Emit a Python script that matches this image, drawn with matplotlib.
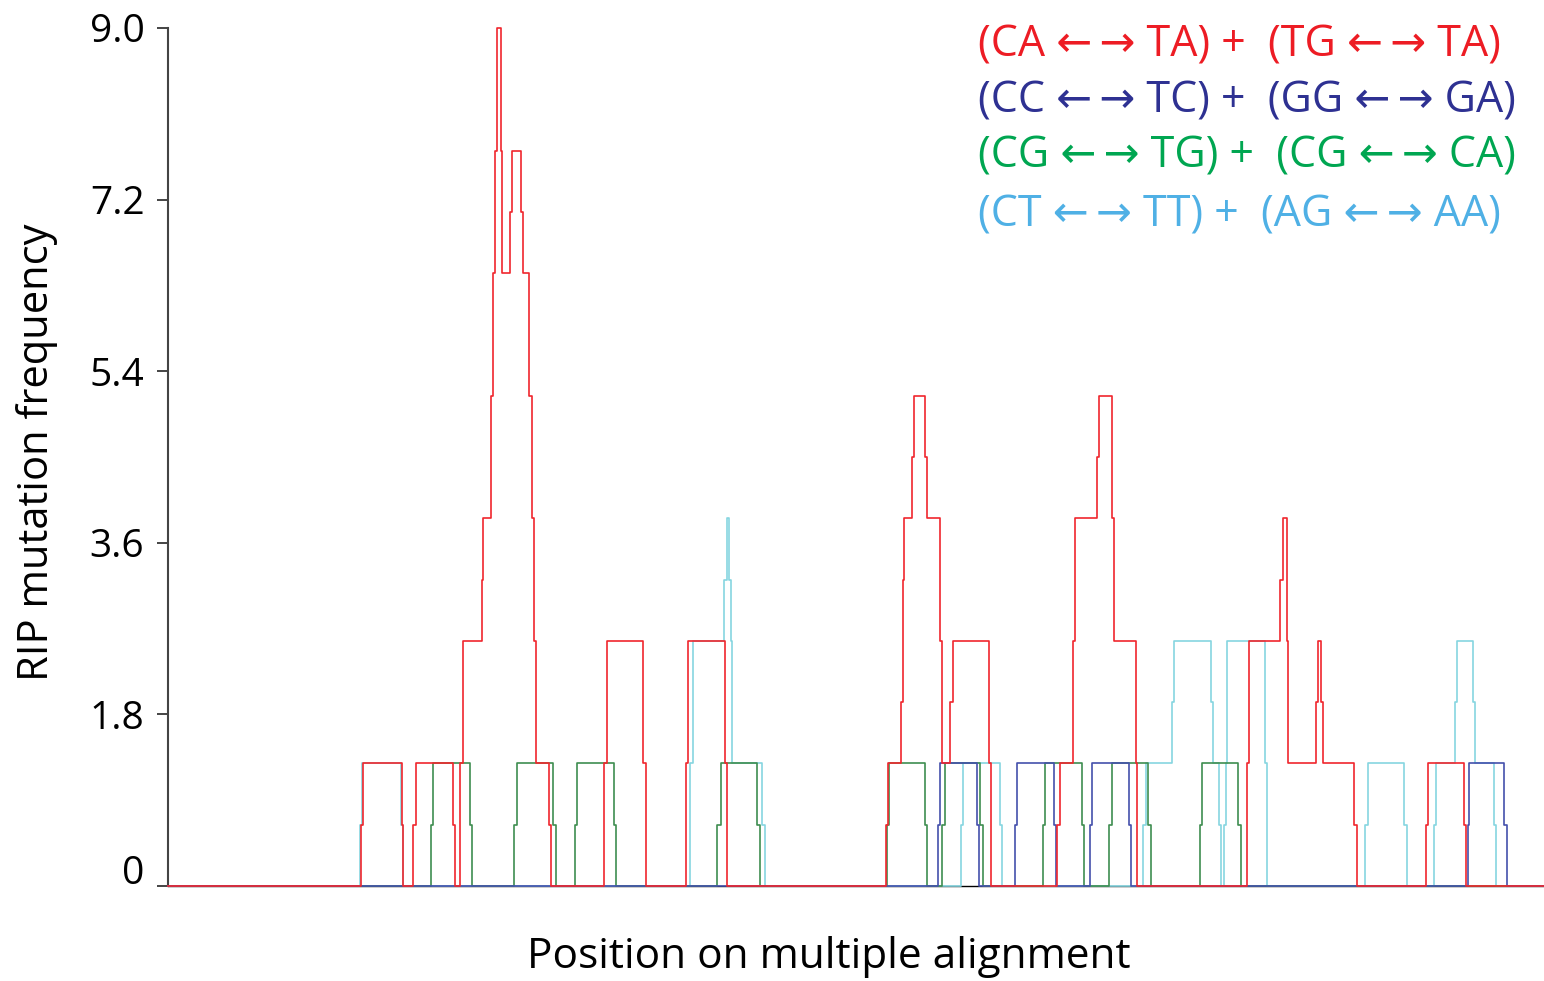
import matplotlib
matplotlib.use('Agg')
import matplotlib.pyplot as plt
from matplotlib.transforms import ScaledTranslation

plt.rcParams['font.family'] = ['Open Sans', 'DejaVu Sans']

# one level step = 9/14 of a frequency unit
UNIT = 9.0 / 14.0
X_END = 1376

# (CA<->TA)+(TG<->TA)
red_x = [0, 192.7, 195.3, 233.7, 235.3, 244.7, 248, 284.7, 287, 292, 295.3,
         314.3, 315.3, 323, 324.7, 326.5, 328.7, 332.5, 333.7, 342, 344, 353,
         355.3, 361.3, 364, 365.7, 367.7, 381.3, 383, 436.3, 438.7, 475.3,
         477.7, 518, 520.3, 557, 559.3, 718, 720.3, 733, 734.7, 736, 744.3,
         746.3, 757, 759.3, 772, 774.3, 782, 784.7, 821.3, 823, 889.3, 892,
         905.3, 907, 929.3, 931, 943.7, 946, 967.7, 969.3, 1078.7, 1081,
         1111.5, 1115, 1118.5, 1120.3, 1147.7, 1149.7, 1153, 1154.7, 1186.3,
         1188.7, 1258, 1259.7, 1296, 1298]
red_lv = [0, 1, 2, 1, 0, 1, 2, 1, 0, 2, 4,
          5, 6, 8, 10, 12, 14, 12, 10, 11, 12, 11,
          10, 8, 6, 4, 2, 1, 0, 2, 4, 2,
          0, 2, 4, 2, 0, 1, 2, 3, 5, 6, 7,
          8, 7, 6, 4, 2, 3, 4, 2, 0, 1, 2,
          4, 6, 7, 8, 6, 4, 2, 0, 2, 4,
          5, 6, 4, 2, 3, 4, 3, 2, 1,
          0, 1, 2, 1, 0]

# (CC<->TC)+(GG<->GA)
blue_x = [0, 769.7, 772, 808.7, 811, 847, 849.3, 886, 887.7, 922, 924.3,
          961, 962.7, 1299.7, 1300.7, 1336.3, 1338.7]
blue_lv = [0, 1, 2, 1, 0, 1, 2, 1, 0, 1, 2,
           1, 0, 1, 2, 1, 0]

# (CG<->TG)+(CG<->CA)
green_x = [0, 262.7, 265, 302, 304.3, 346.3, 348.7, 385.3, 387.7, 407, 409,
           446, 448, 549.3, 552.7, 589.3, 591.5, 718.5, 720.5, 757, 759.3,
           774, 777, 812, 815, 874.7, 877, 913.7, 916, 941.3, 943.7, 980.3,
           982.7, 1032, 1034.3, 1070.3, 1072.7]
green_lv = [0, 1, 2, 1, 0, 1, 2, 1, 0, 1, 2,
            1, 0, 1, 2, 1, 0, 1, 2, 1, 0,
            1, 2, 1, 0, 1, 2, 1, 0, 1, 2, 1,
            0, 1, 2, 1, 0]

# (CT<->TT)+(AG<->AA)
cyan_x = [0, 191.7, 194.3, 233, 234.7, 522, 524.7, 556.3, 558.7, 561.3,
          562.7, 564, 593.7, 597.3, 793, 795.3, 832, 834.3, 975.3, 977.7,
          1003.7, 1006, 1043, 1044.7, 1051.3, 1053, 1056, 1057.5, 1059.3,
          1097, 1098.7, 1197, 1199.7, 1236, 1238.7, 1266.3, 1268, 1287,
          1289.3, 1305.3, 1307, 1326, 1328]
cyan_lv = [0, 1, 2, 1, 0, 2, 4, 5, 6, 5,
           4, 2, 1, 0, 1, 2, 1, 0, 1, 2,
           3, 4, 3, 2, 1, 0, 1, 2, 4,
           2, 0, 1, 2, 1, 0, 1, 2, 3,
           4, 3, 2, 1, 0]

yticks = [0, 1.8, 3.6, 5.4, 7.2, 9.0]
ytick_labels = ['0', '1.8', '3.6', '5.4', '7.2', '9.0']

AR = '\u2190\u2009\u2192'
legend_rows = [
    ('(CA ' + AR + ' TA) +  (TG ' + AR + ' TA)', '#ed1c24'),
    ('(CC ' + AR + ' TC) +  (GG ' + AR + ' GA)', '#2e3192'),
    ('(CG ' + AR + ' TG) +  (CG ' + AR + ' CA)', '#00a651'),
    ('(CT ' + AR + ' TT) +  (AG ' + AR + ' AA)', '#4fb0e5'),
]

series = [
    (cyan_x, cyan_lv, '#86d5e0'),
    (green_x, green_lv, '#3e8d50'),
    (blue_x, blue_lv, '#4450ac'),
    (red_x, red_lv, '#f0262d'),
]

fig = plt.figure(figsize=(15.44, 9.81), dpi=100)
ax = fig.add_axes([168 / 1544, 1 - 886 / 981, 1 - 168 / 1544, (886 - 28) / 981])

for i, (xs, lv, col) in enumerate(series):
    xx = list(xs) + [X_END]
    yy = [v * UNIT for v in lv] + [0]
    ax.plot(xx, yy, drawstyle='steps-post', color=col, lw=1.2,
            zorder=3 + i, clip_on=False)

ax.set_xlim(0, X_END)
ax.set_ylim(0, 9.0)
ax.set_xticks([])
ax.set_yticks(yticks)
ax.set_yticklabels(ytick_labels)
ax.tick_params(axis='y', length=8, width=1.4, color='#444444', pad=9,
               labelsize=28)
# the zero label sits just above its tick
lab0 = ax.get_yticklabels()[0]
lab0.set_verticalalignment('bottom')
lab0.set_transform(lab0.get_transform() + ScaledTranslation(0, -0.07, fig.dpi_scale_trans))

for s in ['top', 'right']:
    ax.spines[s].set_visible(False)
ax.spines['left'].set_color('#444444')
ax.spines['left'].set_linewidth(1.5)
ax.spines['bottom'].set_color('black')
ax.spines['bottom'].set_linewidth(1.0)

ax.set_ylabel('RIP mutation frequency', fontsize=30, va='center')
ax.yaxis.set_label_coords((37 - 168) / 1376, (886 - 452) / 858)
fig.text(829 / 1544, 1 - 957 / 981, 'Position on multiple alignment',
         fontsize=30.5, ha='center', va='center')

baselines = [56, 112, 168, 226]
for (txt, col), yb in zip(legend_rows, baselines):
    fig.text(978 / 1544, 1 - yb / 981, txt, color=col, fontsize=31,
             ha='left', va='baseline')

fig.savefig('out.png', dpi=100)
